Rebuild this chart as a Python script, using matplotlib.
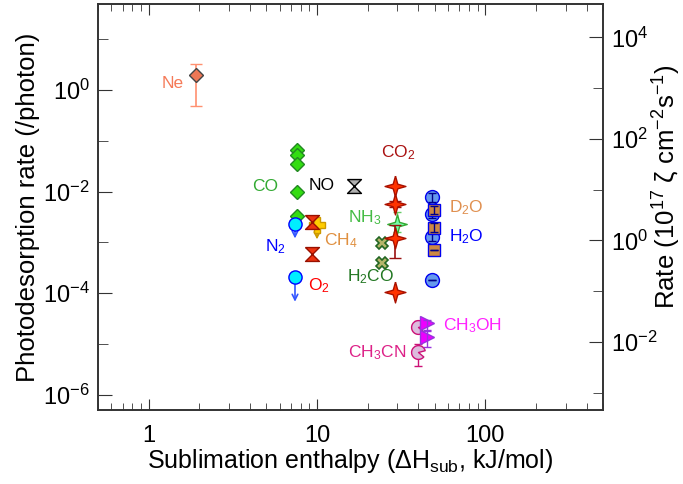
import matplotlib
matplotlib.use('Agg')
import matplotlib.pyplot as plt
from matplotlib.path import Path
from matplotlib.ticker import FixedLocator, NullFormatter, FuncFormatter, LogFormatterSciNotation

plt.rcParams['font.family'] = ['Liberation Sans', 'DejaVu Sans']
plt.rcParams['mathtext.fontset'] = 'custom'
plt.rcParams['mathtext.rm'] = 'Liberation Sans'
plt.rcParams['mathtext.it'] = 'Liberation Sans:italic'
plt.rcParams['mathtext.bf'] = 'Liberation Sans:bold'
plt.rcParams['mathtext.default'] = 'regular'

# sublimation enthalpy (kJ/mol) vs photodesorption yield (/photon)
ne_x = [1.91]
ne_y = [2.0]
ne_lo = [0.49]
ne_hi = [3.3]

co_x = [7.6, 7.6, 7.6, 7.6, 7.6]
co_y = [0.066, 0.054, 0.035, 0.0098, 0.0033]

n2_x = [7.4, 7.4]
n2_y = [2.3e-3, 2.1e-4]
n2_tip = [1.2e-3, 6.8e-5]      # upper limits

ch4_x = [10.0]
ch4_y = [2.2e-3]
ch4_tip = [1.15e-3]

o2_x = [9.4, 9.4]
o2_y = [2.5e-3, 6.0e-4]

no_x = [16.6]
no_y = [0.0132]

nh3_x = [29.8]
nh3_y = [2.3e-3]
nh3_lo = [1.6e-3]
nh3_hi = [4.0e-3]

co2_x = [29.2, 29.2, 29.2, 29.2]
co2_y = [0.0132, 5.8e-3, 1.2e-3, 1.07e-4]
co2_lo = [0.0132, 5.1e-3, 5.0e-4, 1.07e-4]
co2_hi = [0.0132, 6.6e-3, 2.2e-3, 1.07e-4]

h2co_x = [24.3, 24.3]
h2co_y = [9.8e-4, 4.0e-4]

h2o_x = [48.2, 48.2, 48.2, 48.2]
h2o_y = [7.8e-3, 3.7e-3, 1.3e-3, 1.8e-4]
h2o_lo = [6.4e-3, 3.0e-3, 1.05e-3, 1.8e-4]
h2o_hi = [9.4e-3, 4.5e-3, 1.6e-3, 1.8e-4]

d2o_x = [49.4, 49.4, 49.4]
d2o_y = [4.4e-3, 1.96e-3, 7.2e-4]
d2o_lo = [3.6e-3, 1.6e-3, 7.2e-4]
d2o_hi = [5.3e-3, 2.4e-3, 7.2e-4]

ch3oh_x = [45.0, 45.0]
ch3oh_y = [2.55e-5, 1.4e-5]
ch3oh_lo = [1.9e-5, 8.9e-6]
ch3oh_hi = [3.0e-5, 1.8e-5]

ch3cn_x = [39.8, 39.8]
ch3cn_y = [2.2e-5, 7.1e-6]
ch3cn_lo = [1.7e-5, 3.6e-6]
ch3cn_hi = [2.8e-5, 1.0e-5]

# species labels: text, x, y, colour
labels = [
    ('Ne', 1.38, 1.33, '#f57a58'),
    ('CO', 4.92, 0.0127, '#33aa33'),
    ('NO', 10.7, 0.0133, 'black'),
    ('N$_2$', 5.64, 8.1e-4, '#0000ff'),
    ('CH$_4$', 13.9, 1.1e-3, '#e09040'),
    ('O$_2$', 10.2, 1.44e-4, '#ff0000'),
    ('NH$_3$', 19.3, 3.1e-3, '#44bb44'),
    ('H$_2$CO', 20.7, 2.16e-4, '#227722'),
    ('CO$_2$', 30.4, 0.059, '#aa1111'),
    ('D$_2$O', 77.1, 4.9e-3, '#e09050'),
    ('H$_2$O', 77.1, 1.32e-3, '#0000ff'),
    ('CH$_3$OH', 83.7, 2.3e-5, '#ff22ff'),
    ('CH$_3$CN', 22.8, 6.7e-6, '#dd2288'),
]

# photodesorption rate -> rate (10^17 zeta cm^-2 s^-1) conversion
rate_factor = 10 ** 2.958

hourglass = [(-1, 1), (1, 1), (-1, -1), (1, -1), (-1, 1)]
star4 = [(0, 1), (0.22, 0.22), (1, 0), (0.22, -0.22), (0, -1),
         (-0.22, -0.22), (-1, 0), (-0.22, 0.22), (0, 1)]
pacman = Path.wedge(15, 320)


def errs(y, lo, hi):
    return [[a - b for a, b in zip(y, lo)], [b - a for a, b in zip(y, hi)]]


fig = plt.figure(figsize=(6.83, 4.84), dpi=100)
ax = fig.add_axes([98 / 683, 74 / 484, 505 / 683, 406 / 484])

# Ne
ax.errorbar(ne_x, ne_y, yerr=errs(ne_y, ne_lo, ne_hi), fmt='D', ms=7.5,
            mfc='#ee7755', mec='#444444', mew=1, ecolor='#ff9070',
            elinewidth=1.2, capsize=4, zorder=3)

# CO
ax.plot(co_x, co_y, 'D', ms=7.5, mfc='#33dd11', mec='#228822', mew=1, zorder=3)

# N2 (upper limits)
for xv, yv, tv in zip(n2_x, n2_y, n2_tip):
    ax.annotate('', xy=(xv, tv), xytext=(xv, yv),
                arrowprops=dict(arrowstyle='->', color='#3355ff', lw=1.2,
                                shrinkA=0, shrinkB=0), zorder=3)
ax.plot(n2_x, n2_y, 'o', ms=9.5, mfc='#00eeff', mec='#0000ff', mew=1, zorder=4)

# CH4 (upper limit)
for xv, yv, tv in zip(ch4_x, ch4_y, ch4_tip):
    ax.annotate('', xy=(xv, tv), xytext=(xv, yv),
                arrowprops=dict(arrowstyle='->', color='#cc9900', lw=1.2,
                                shrinkA=0, shrinkB=0), zorder=3)
ax.plot(ch4_x, ch4_y, 'P', ms=11, mfc='#ffcc00', mec='#cc9900', mew=1, zorder=4)

# O2
ax.plot(o2_x, o2_y, marker=hourglass, ls='none', ms=10, mfc='#ee3311',
        mec='#991100', mew=1, zorder=5)

# NO
ax.plot(no_x, no_y, marker=hourglass, ls='none', ms=10, mfc='#b0b0b0',
        mec='black', mew=1, zorder=3)

# NH3
ax.errorbar(nh3_x, nh3_y, yerr=errs(nh3_y, nh3_lo, nh3_hi), fmt='none',
            ecolor='#66cc66', elinewidth=1, capsize=3, zorder=3)
ax.plot(nh3_x, nh3_y, marker=star4, ls='none', ms=14, mfc='#77ffaa',
        mec='#33aa33', mew=1, zorder=3)

# H2CO
ax.plot(h2co_x, h2co_y, 'X', ms=9, mfc='#b5b56a', mec='#226622', mew=1.2, zorder=3)

# CO2
ax.errorbar(co2_x, co2_y, yerr=errs(co2_y, co2_lo, co2_hi), fmt='none',
            ecolor='#991111', elinewidth=1.2, capsize=4, zorder=4)
ax.plot(co2_x, co2_y, marker=star4, ls='none', ms=15, mfc='#ff3300',
        mec='#aa1100', mew=1, zorder=4)

# H2O (error bars drawn over the circles)
ax.plot(h2o_x, h2o_y, 'o', ms=10, mfc='#6699ee', mec='#0000ee', mew=1, zorder=3)
ax.errorbar(h2o_x, h2o_y, yerr=errs(h2o_y, h2o_lo, h2o_hi), fmt='none',
            ecolor='#000088', elinewidth=1, capsize=3, zorder=3.5)

# D2O
ax.plot(d2o_x, d2o_y, 's', ms=8, mfc='#cc8844', mec='#0000ee', mew=1, zorder=4)
ax.errorbar(d2o_x, d2o_y, yerr=errs(d2o_y, d2o_lo, d2o_hi), fmt='none',
            ecolor='#000088', elinewidth=1, capsize=3, zorder=4.5)

# CH3CN
ax.errorbar(ch3cn_x, ch3cn_y, yerr=errs(ch3cn_y, ch3cn_lo, ch3cn_hi), fmt='none',
            ecolor='#cc1177', elinewidth=1, capsize=3, zorder=3)
ax.plot(ch3cn_x, ch3cn_y, marker=pacman, ls='none', ms=10, mfc='#ddbbdd',
        mec='#cc1177', mew=1, zorder=3)

# CH3OH
ax.plot(ch3oh_x, ch3oh_y, '>', ms=10, mfc='#ee00ff', mec='#9933dd', mew=1, zorder=4)
ax.errorbar(ch3oh_x, ch3oh_y, yerr=errs(ch3oh_y, ch3oh_lo, ch3oh_hi), fmt='none',
            ecolor='#9933dd', elinewidth=1, capsize=3, zorder=4.5)

for txt, xv, yv, col in labels:
    ax.text(xv, yv, txt, color=col, fontsize=12.5, ha='center', va='center')

ax.set_xscale('log')
ax.set_yscale('log')
ax.set_xlim(0.5, 500)
ax.set_ylim(5e-7, 50)

ax.xaxis.set_major_locator(FixedLocator([1, 10, 100]))
ax.xaxis.set_major_formatter(FuncFormatter(lambda v, p: '%g' % v))
ax.xaxis.set_minor_locator(FixedLocator(
    [m * 10 ** e for e in range(-1, 3) for m in range(2, 10)]))
ax.xaxis.set_minor_formatter(NullFormatter())

ax.yaxis.set_major_locator(FixedLocator([1e-6, 1e-4, 1e-2, 1e0]))
ax.yaxis.set_major_formatter(LogFormatterSciNotation())
ax.yaxis.set_minor_locator(FixedLocator([1e-5, 1e-3, 1e-1, 1e1]))
ax.yaxis.set_minor_formatter(NullFormatter())

ax.tick_params(axis='both', which='both', direction='in', labelsize=17,
               color='#333333')
ax.tick_params(axis='x', which='both', top=True)
ax.tick_params(axis='x', which='major', length=8, pad=11)
ax.tick_params(axis='x', which='minor', length=5)
ax.tick_params(axis='y', which='major', length=10, pad=6)
ax.tick_params(axis='y', which='minor', length=7)

ax.set_xlabel('Sublimation enthalpy (ΔH$_{sub}$, kJ/mol)', fontsize=18, labelpad=0)
ax.set_ylabel('Photodesorption rate (/photon)', fontsize=18.5, labelpad=2)

ax2 = ax.twinx()
ax2.set_yscale('log')
ax2.set_ylim(5e-7 * rate_factor, 50 * rate_factor)
ax2.yaxis.set_major_locator(FixedLocator([1e-2, 1e0, 1e2, 1e4]))
ax2.yaxis.set_major_formatter(LogFormatterSciNotation())
ax2.yaxis.set_minor_locator(FixedLocator([1e-3, 1e-1, 1e1, 1e3]))
ax2.yaxis.set_minor_formatter(NullFormatter())
ax2.tick_params(axis='y', which='both', direction='in', labelsize=17,
                color='#333333')
ax2.tick_params(axis='y', which='major', length=10, pad=6)
ax2.tick_params(axis='y', which='minor', length=7)
ax2.set_ylabel('Rate (10$^{17}$ ζ cm$^{-2}$s$^{-1}$)', fontsize=18.5)
ax2.yaxis.set_label_coords(1.094, 0.55)

for a in (ax, ax2):
    for s in a.spines.values():
        s.set_color('#333333')
        s.set_linewidth(1.2)

fig.savefig('out.png', dpi=100)
